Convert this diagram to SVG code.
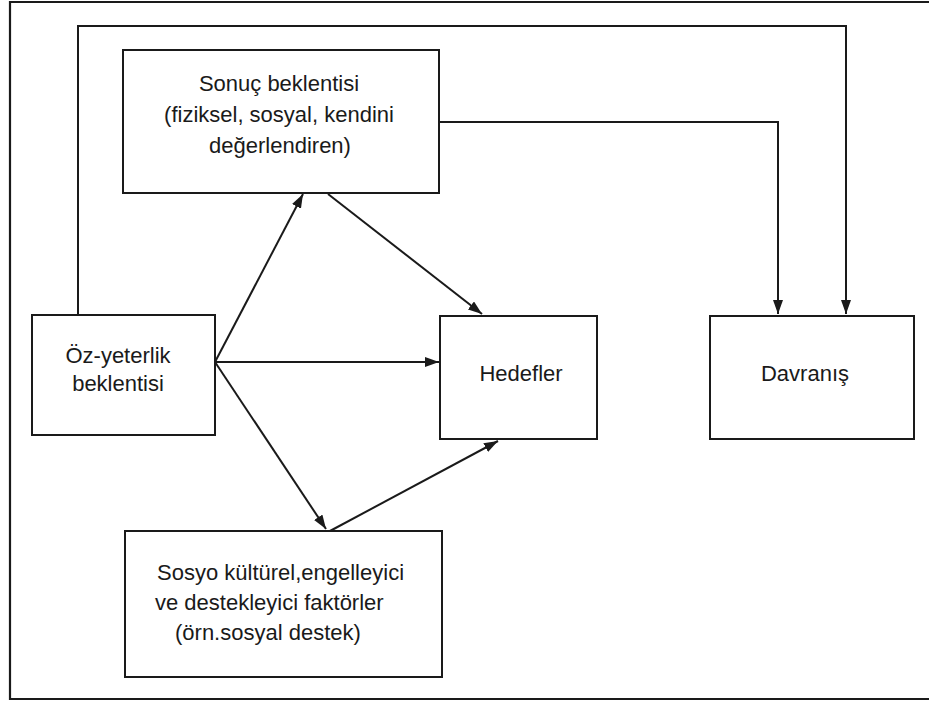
<svg xmlns="http://www.w3.org/2000/svg" width="929" height="704" viewBox="0 0 929 704">
<style>
.box{fill:#fff;stroke:#1a1a1a;stroke-width:2}
.frame{fill:none;stroke:#1a1a1a;stroke-width:2.2}
.lbl{font-family:"Liberation Sans",Arial,sans-serif;font-size:22px;fill:#1a1a1a}
.mid{text-anchor:middle}
.edge{fill:none;stroke:#1a1a1a;stroke-width:2}
</style>
<defs>
<marker id="arr" markerUnits="userSpaceOnUse" markerWidth="15" markerHeight="11" refX="14" refY="5" orient="auto" viewBox="0 0 15 11">
<path d="M0,0 L14,5 L0,10 z" fill="#1a1a1a"/>
</marker>
</defs>
<rect width="929" height="704" fill="#fff"/>
<path class="frame" d="M940,2 H10 V699 H940"/>
<g id="connectors">
<path class="edge" d="M78,314 V26 H846 V314" marker-end="url(#arr)"/>
<path class="edge" d="M440,122 H778 V314" marker-end="url(#arr)"/>
<path class="edge" d="M215,362 L303,194" marker-end="url(#arr)"/>
<path class="edge" d="M215,362 L439,362" marker-end="url(#arr)"/>
<path class="edge" d="M215,362 L326,529" marker-end="url(#arr)"/>
<path class="edge" d="M328,194 L482,314" marker-end="url(#arr)"/>
<path class="edge" d="M330,531 L498,441" marker-end="url(#arr)"/>
</g>
<g id="sonuc">
<rect class="box" x="123" y="50" width="316" height="143"/>
<text class="lbl mid" x="279" y="91">Sonuç beklentisi</text>
<text class="lbl mid" x="279" y="122">(fiziksel, sosyal, kendini</text>
<text class="lbl mid" x="280" y="153">değerlendiren)</text>
</g>
<g id="ozyeterlik">
<rect class="box" x="32" y="315" width="183" height="120"/>
<text class="lbl mid" x="118" y="363">Öz-yeterlik</text>
<text class="lbl mid" x="118" y="391">beklentisi</text>
</g>
<g id="hedefler">
<rect class="box" x="440" y="316" width="157" height="123"/>
<text class="lbl mid" x="521" y="381">Hedefler</text>
</g>
<g id="davranis">
<rect class="box" x="710" y="316" width="204" height="123"/>
<text class="lbl mid" x="805" y="381">Davranış</text>
</g>
<g id="sosyo">
<rect class="box" x="125" y="531" width="317" height="146"/>
<text class="lbl" x="157" y="580">Sosyo kültürel,engelleyici</text>
<text class="lbl" x="155" y="610">ve destekleyici faktörler</text>
<text class="lbl" x="175" y="640">(örn.sosyal destek)</text>
</g>
</svg>
